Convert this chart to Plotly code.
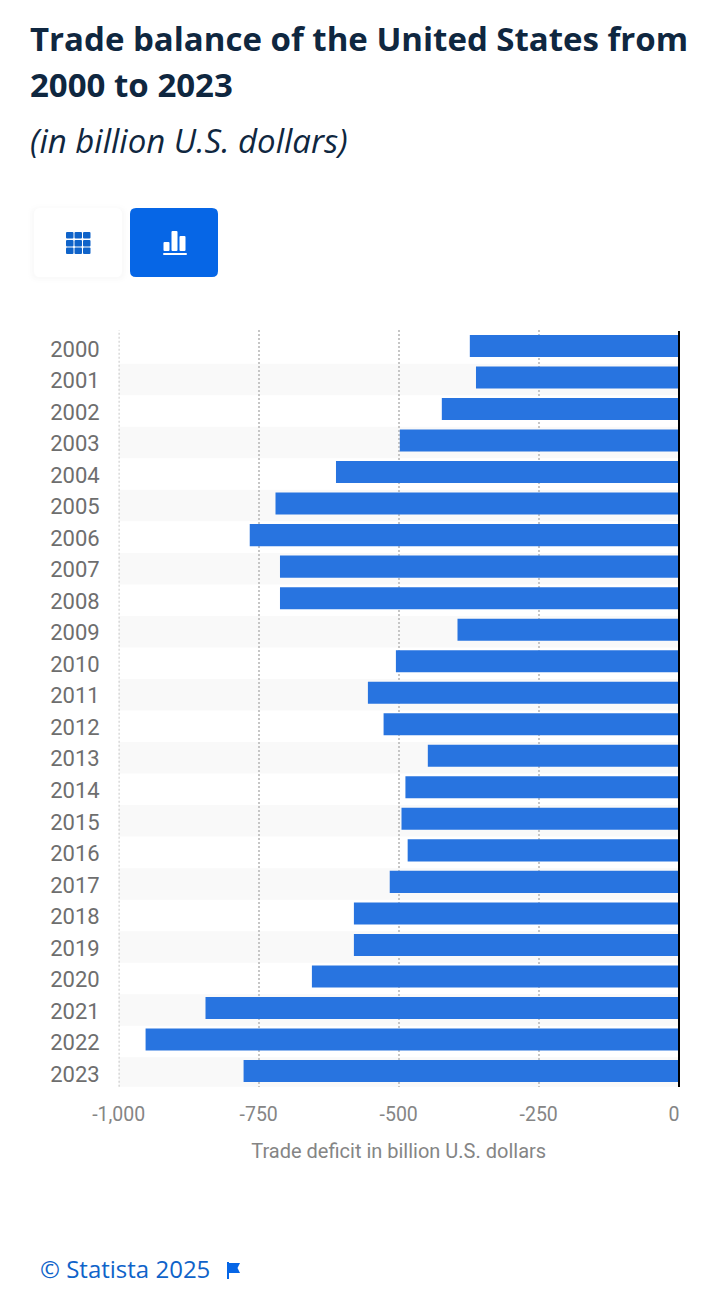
import plotly.graph_objects as go

years = [str(y) for y in range(2000, 2024)]
balance = [-373, -362, -423, -498, -612, -720, -766, -712, -712, -395, -505, -555,
           -527, -448, -488, -495, -484, -516, -580, -580, -655, -845, -952, -777]
x_ticks = [-1000, -750, -500, -250, 0]
x_tick_labels = ["-1,000", "-750", "-500", "-250", "0\u00a0\u00a0"]
title_lines = ["Trade balance of the United States from", "2000 to 2023"]
subtitle = "(in billion U.S. dollars)"
x_title = "Trade deficit in billion U.S. dollars"
credit = "© Statista 2025"

W, H = 720, 1305
L, R, T, B = 118.7, 678.7, 330.2, 1086.8
GRID = dict(color="#c6c6c6", width=1.5, dash="2px,2px")


def px(x):
    return x / W


def py(y):
    return 1 - y / H


def rounded(x0, y0, x1, y1, r):
    a, b, c, d = px(x0), py(y0), px(x1), py(y1)
    rx, ry = r / W, r / H
    return (f"M{a+rx},{b} L{c-rx},{b} Q{c},{b} {c},{b-ry} L{c},{d+ry} Q{c},{d} {c-rx},{d} "
            f"L{a+rx},{d} Q{a},{d} {a},{d+ry} L{a},{b-ry} Q{a},{b} {a+rx},{b} Z")


def page_path(d, color, layer="above"):
    return dict(type="path", xref="paper", yref="paper", path=d, fillcolor=color,
                line=dict(width=0), layer=layer)


def page_rect(x0, y0, x1, y1, color, layer="above"):
    return page_path(rounded(x0, y0, x1, y1, 1), color, layer)


shapes = []
# alternate row stripes, under the grid, sitting 2px lower than the bar bands
row_h = (B - T) / len(years)
nudge = 2 / row_h
for i in range(1, len(years), 2):
    shapes.append(dict(type="rect", xref="paper", yref="y", x0=L / W, x1=R / W,
                       y0=i - 0.5 + nudge, y1=i + 0.5 + nudge, fillcolor="#f9f9f9",
                       line=dict(width=0), layer="below"))

# table button with a soft shadow
for grow, col in [(6, "#fefefe"), (4, "#fcfcfc"), (2, "#fafafa")]:
    shapes.append(page_path(rounded(34 - grow, 208 - grow + 2, 122 + grow, 277 + grow, 6 + grow), col))
shapes.append(page_path(rounded(34, 208, 122, 277, 6), "#ffffff"))
for gx in (66, 74.5, 83):
    for gy in (232, 240, 247.5):
        shapes.append(page_path(rounded(gx, gy, gx + 7.5, gy + 6.5, 1), "#0f63c9"))

# chart button
shapes.append(page_path(rounded(130, 208, 218, 277, 6), "#0666e6"))
shapes.append(page_path(rounded(163.5, 242, 169.5, 251, 1), "#ffffff"))
shapes.append(page_path(rounded(171.5, 231, 177.5, 251, 1), "#ffffff"))
shapes.append(page_path(rounded(179.5, 236, 185.5, 251, 1), "#ffffff"))
shapes.append(page_rect(163, 253, 187, 255, "#ffffff"))

# footer flag
fx, fy = 227, 1262
flag = [(0, 0), (2, 0), (2, 1), (13, 1), (10.5, 6), (13, 11), (2, 11), (2, 17), (0, 17)]
shapes.append(page_path("M" + " L".join(f"{px(fx+a)},{py(fy+b)}" for a, b in flag) + " Z", "#0666e6"))

# gridline on the axis edge, and the black axis line over the bars
shapes.append(dict(type="line", xref="x", yref="paper", x0=-1000, x1=-1000, y0=1 - B / H, y1=1 - T / H,
                   line=dict(GRID, color="#b4b4b4"), layer="below"))
shapes.append(dict(type="line", xref="paper", yref="paper", x0=679 / W, x1=679 / W,
                   y0=1 - 1087 / H, y1=1 - 331 / H, line=dict(color="#000000", width=2), layer="above"))

annotations = []


def page_text(x, y, text, size, color, family="Open Sans", weight=None, style=None):
    annotations.append(dict(xref="paper", yref="paper", x=px(x), y=py(y), text=text,
                            showarrow=False, xanchor="left", yanchor="middle",
                            font=dict(family=family, size=size, color=color, weight=weight,
                                      style=style)))


page_text(28, 38, title_lines[0], 33, "#0f2740", weight=700)
page_text(28, 85, title_lines[1], 33, "#0f2740", weight=700)
page_text(28, 140, subtitle, 33, "#0f2740", style="italic")
page_text(38, 1268, credit, 24, "#0f63c9")

fig = go.Figure(go.Bar(y=years, x=balance, orientation="h", marker=dict(color="#2874e0", line=dict(width=0)),
                       width=0.7, hoverinfo="skip"))
fig.update_layout(
    width=W, height=H, autosize=False, showlegend=False,
    paper_bgcolor="#ffffff", plot_bgcolor="rgba(0,0,0,0)",
    margin=dict(l=0, r=0, t=0, b=0), shapes=shapes, annotations=annotations,
    xaxis=dict(domain=[L / W, R / W], range=[-1000, 0], tickvals=x_ticks, ticktext=x_tick_labels,
               showgrid=True, gridcolor=GRID["color"], griddash=GRID["dash"], gridwidth=GRID["width"],
               zeroline=False, showline=False, ticks="", ticklabelstandoff=14,
               anchor="y", automargin=False,
               tickfont=dict(family="Roboto", size=19.5, color="#858585"),
               title=dict(text=x_title, font=dict(family="Roboto", size=20, color="#858585"), standoff=18)),
    yaxis=dict(domain=[1 - B / H, 1 - T / H], autorange=False, range=[len(years) - 0.5, -0.5],
               type="category", categoryorder="array", categoryarray=years,
               showgrid=False, zeroline=False, showline=False, ticks="", ticklabelstandoff=18,
               ticklabelshift=-3, automargin=False,
               tickfont=dict(family="Roboto", size=22, color="#6e6e6e")),
)

fig.write_html("out.html", config=dict(displayModeBar=False),
               post_script="document.body.style.margin='0';")
